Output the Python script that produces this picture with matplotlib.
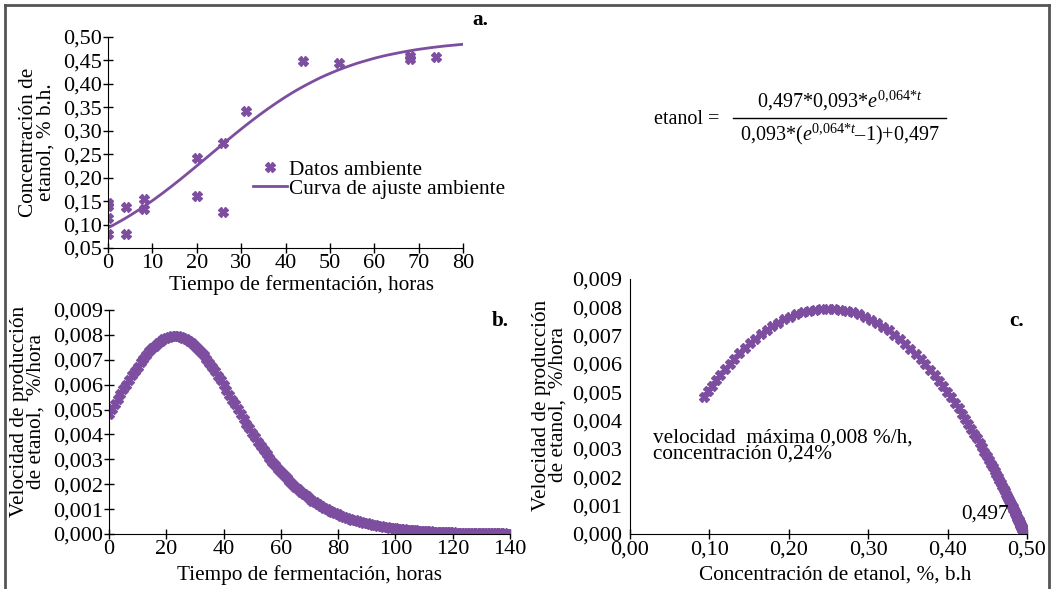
import numpy as np
import matplotlib.pyplot as plt
from matplotlib.lines import Line2D

plt.rcParams['font.family'] = ['Liberation Serif', 'DejaVu Serif']
plt.rcParams['mathtext.fontset'] = 'custom'
plt.rcParams['mathtext.rm'] = 'Liberation Serif'
plt.rcParams['mathtext.it'] = 'Liberation Serif:italic'

purple = '#7D4E9F'
fs = 15.3     # labels
tfs = 16      # tick labels

# --- panel a: measured points (ambient) ---
t_obs = [0, 0, 0, 0, 4, 4, 8, 8, 20, 20, 26, 26, 31, 44, 52, 68, 68, 74]
c_obs = [0.147, 0.140, 0.114, 0.080, 0.137, 0.080, 0.154, 0.133, 0.241, 0.160,
         0.275, 0.126, 0.342, 0.449, 0.445, 0.459, 0.453, 0.457]

# --- fitted concentration and production rate, read every hour (0..140 h) ---
t_fit = list(range(0, 141))
c_fit = [0.0930, 0.0979, 0.1031, 0.1084, 0.1139, 0.1196, 0.1256, 0.1316, 0.1379, 0.1444,
         0.1510, 0.1579, 0.1648, 0.1720, 0.1792, 0.1866, 0.1941, 0.2017, 0.2095, 0.2173,
         0.2251, 0.2330, 0.2410, 0.2489, 0.2568, 0.2647, 0.2727, 0.2805, 0.2883, 0.2960,
         0.3036, 0.3112, 0.3185, 0.3258, 0.3329, 0.3398, 0.3466, 0.3532, 0.3597, 0.3660,
         0.3721, 0.3780, 0.3837, 0.3892, 0.3944, 0.3995, 0.4044, 0.4092, 0.4138, 0.4181,
         0.4222, 0.4262, 0.4300, 0.4336, 0.4370, 0.4403, 0.4435, 0.4464, 0.4492, 0.4519,
         0.4546, 0.4570, 0.4593, 0.4615, 0.4634, 0.4653, 0.4672, 0.4689, 0.4706, 0.4722,
         0.4737, 0.4750, 0.4763, 0.4776, 0.4787, 0.4798, 0.4809, 0.4818, 0.4827, 0.4836,
         0.4844, 0.4852, 0.4859, 0.4866, 0.4872, 0.4878, 0.4884, 0.4889, 0.4894, 0.4899,
         0.4903, 0.4907, 0.4911, 0.4915, 0.4918, 0.4921, 0.4924, 0.4927, 0.4930, 0.4932,
         0.4934, 0.4937, 0.4939, 0.4941, 0.4942, 0.4944, 0.4946, 0.4947, 0.4949, 0.4950,
         0.4951, 0.4952, 0.4953, 0.4954, 0.4955, 0.4956, 0.4957, 0.4958, 0.4959, 0.4959,
         0.4960, 0.4961, 0.4961, 0.4962, 0.4962, 0.4963, 0.4963, 0.4964, 0.4964, 0.4964,
         0.4965, 0.4965, 0.4965, 0.4966, 0.4966, 0.4966, 0.4966, 0.4967, 0.4967, 0.4967,
         0.4967]
rate = [0.004838, 0.005033, 0.005228, 0.005424, 0.005619, 0.005813, 0.006005, 0.006194,
        0.006377, 0.006556, 0.006729, 0.006894, 0.007051, 0.007198, 0.007334, 0.007459,
        0.007571, 0.007670, 0.007756, 0.007826, 0.007882, 0.007921, 0.007945, 0.007952,
        0.007943, 0.007918, 0.007877, 0.007820, 0.007748, 0.007662, 0.007560, 0.007447,
        0.007321, 0.007184, 0.007036, 0.006878, 0.006713, 0.006540, 0.006360, 0.006176,
        0.005986, 0.005794, 0.005599, 0.005404, 0.005211, 0.005016, 0.004821, 0.004628,
        0.004434, 0.004246, 0.004068, 0.003888, 0.003712, 0.003541, 0.003376, 0.003214,
        0.003058, 0.002907, 0.002765, 0.002625, 0.002485, 0.002356, 0.002230, 0.002112,
        0.002006, 0.001897, 0.001795, 0.001696, 0.001598, 0.001509, 0.001424, 0.001344,
        0.001268, 0.001196, 0.001127, 0.001062, 0.001000, 0.000942, 0.000886, 0.000835,
        0.000784, 0.000738, 0.000695, 0.000653, 0.000615, 0.000578, 0.000543, 0.000510,
        0.000480, 0.000451, 0.000424, 0.000398, 0.000374, 0.000351, 0.000330, 0.000310,
        0.000292, 0.000274, 0.000257, 0.000241, 0.000226, 0.000212, 0.000199, 0.000187,
        0.000176, 0.000165, 0.000155, 0.000145, 0.000136, 0.000128, 0.000120, 0.000113,
        0.000106, 0.0000995, 0.0000936, 0.0000876, 0.0000822, 0.0000771, 0.0000724,
        0.0000679, 0.0000637, 0.0000599, 0.0000561, 0.0000527, 0.0000495, 0.0000463,
        0.0000435, 0.0000410, 0.0000381, 0.0000359, 0.0000337, 0.0000316, 0.0000297,
        0.0000278, 0.0000261, 0.0000245, 0.0000229, 0.0000215, 0.0000202, 0.0000189,
        0.0000177]

# tick labels
a_xticks = [0, 10, 20, 30, 40, 50, 60, 70, 80]
a_yticks = [0.05, 0.10, 0.15, 0.20, 0.25, 0.30, 0.35, 0.40, 0.45, 0.50]
a_ylabels = ['0,05', '0,10', '0,15', '0,20', '0,25', '0,30', '0,35', '0,40', '0,45', '0,50']
b_xticks = [0, 20, 40, 60, 80, 100, 120, 140]
r_yticks = [0.000, 0.001, 0.002, 0.003, 0.004, 0.005, 0.006, 0.007, 0.008, 0.009]
r_ylabels = ['0,000', '0,001', '0,002', '0,003', '0,004', '0,005', '0,006', '0,007', '0,008', '0,009']
c_xticks = [0.0, 0.1, 0.2, 0.3, 0.4, 0.5]
c_xlabels = ['0,00', '0,10', '0,20', '0,30', '0,40', '0,50']

W, H = 1056, 589
fig = plt.figure(figsize=(W/100, H/100), dpi=100)

def px_axes(l, r, t, b):
    return fig.add_axes([l/W, 1 - b/H, (r - l)/W, (b - t)/H])

def style(ax):
    for s in ['top', 'right']:
        ax.spines[s].set_visible(False)
    ax.tick_params(direction='inout', length=7, width=1, labelsize=tfs, pad=1)

# ---------------- a ----------------
ax1 = px_axes(108, 463, 37, 248)
style(ax1)
ax1.plot(t_obs, c_obs, 'X', color=purple, ms=7, mec=purple, label='Datos ambiente')
ax1.plot(t_fit[:81], c_fit[:81], '-', color=purple, lw=2, label='Curva de ajuste ambiente')
ax1.set_xlim(0, 80)
ax1.set_ylim(0.05, 0.50)
ax1.set_xticks(a_xticks)
ax1.set_yticks(a_yticks)
ax1.set_yticklabels(a_ylabels)
ax1.set_xlabel('Tiempo de fermentación, horas', fontsize=fs)
ax1.xaxis.set_label_coords(0.544, -0.13)
ax1.set_ylabel('Concentración de\netanol, % b.h.', fontsize=fs, linespacing=0.85)
ax1.yaxis.set_label_coords(-0.149, 0.5)
ax1.legend(loc='upper left', bbox_to_anchor=(253/W, 1 - 160/H), bbox_transform=fig.transFigure,
           frameon=False, fontsize=fs, handlelength=1.6, handletextpad=0.1,
           labelspacing=-0.05, borderpad=0, borderaxespad=0)
fig.text(480/W, 1 - 20/H, 'a.', fontsize=fs, fontweight='bold', ha='center', va='center')

# ---------------- b ----------------
ax2 = px_axes(109, 510, 310, 534)
style(ax2)
ax2.plot(t_fit, rate, 'X', color=purple, ms=6.5, mec=purple)
ax2.set_xlim(0, 140)
ax2.set_ylim(0, 0.009)
ax2.set_xticks(b_xticks)
ax2.set_yticks(r_yticks)
ax2.set_yticklabels(r_ylabels)
ax2.set_xlabel('Tiempo de fermentación, horas', fontsize=fs)
ax2.xaxis.set_label_coords(0.499, -0.14)
ax2.set_ylabel('Velocidad de producción\nde etanol,  %/hora', fontsize=fs, linespacing=0.85)
ax2.yaxis.set_label_coords(-0.157, 0.545)
fig.text(500/W, 1 - 321/H, 'b.', fontsize=fs, fontweight='bold', ha='center', va='center')

# ---------------- c ----------------
ax3 = px_axes(630, 1027, 279, 534)
style(ax3)
ax3.tick_params(axis='y', length=0, pad=6)
ax3.plot(c_fit, rate, 'X', color=purple, ms=6.5, mec=purple)
ax3.set_xlim(0, 0.5)
ax3.set_ylim(0, 0.009)
ax3.set_xticks(c_xticks)
ax3.set_xticklabels(c_xlabels)
ax3.set_yticks(r_yticks)
ax3.set_yticklabels(r_ylabels)
ax3.set_xlabel('Concentración de etanol, %, b.h', fontsize=fs)
ax3.xaxis.set_label_coords(0.516, -0.123)
ax3.set_ylabel('Velocidad de producción\nde etanol,  %/hora', fontsize=fs, linespacing=0.85)
ax3.yaxis.set_label_coords(-0.157, 0.506)
ax3.text(0.029, 0.00311, 'velocidad  máxima 0,008 %/h,\nconcentración 0,24%', fontsize=fs,
         va='center', ha='left', linespacing=0.8)
ax3.text(0.417, 0.00072, '0,497', fontsize=fs, va='center', ha='left')
fig.text(1017/W, 1 - 321/H, 'c.', fontsize=fs, fontweight='bold', ha='center', va='center')

# ---------------- equation ----------------
efs = 14.5
fig.text(687/W, 1 - 119/H, 'etanol =', fontsize=efs, ha='center', va='center')
fig.text(840/W, 1 - 101/H, r'0,497*0,093*$e^{0{,}064{*}t}$', fontsize=efs, ha='center', va='center')
fig.text(840/W, 1 - 134/H, r'0,093*($e^{0{,}064{*}t}$–1)+0,497', fontsize=efs, ha='center', va='center')
fig.add_artist(Line2D([733/W, 946/W], [1 - 118/H, 1 - 118/H], color='black', lw=1))

# frame around the figure
fc = '#555555'
fig.add_artist(Line2D([5/W, 5/W], [0, 1 - 5/H], color=fc, lw=2))
fig.add_artist(Line2D([5/W, 1049/W], [1 - 5/H, 1 - 5/H], color=fc, lw=2))
fig.add_artist(Line2D([1049/W, 1049/W], [0, 1 - 5/H], color=fc, lw=2))

fig.savefig('out.png', dpi=100)
